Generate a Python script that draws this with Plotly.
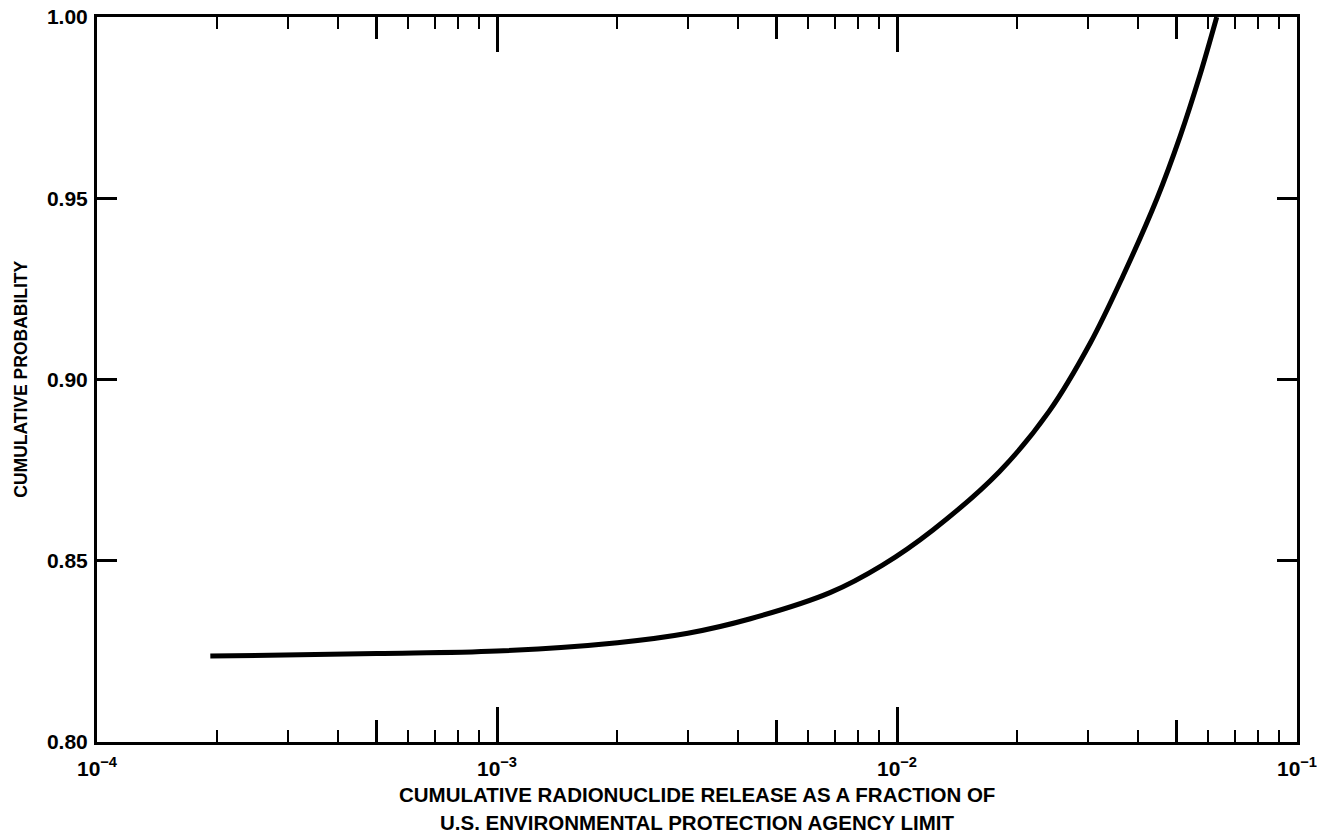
import plotly.graph_objects as go

# Cumulative release (fraction of EPA limit) vs cumulative probability
release = [1.92e-4, 5e-4, 1e-3, 2e-3, 3e-3, 4.3e-3, 6.8e-3, 9.2e-3,
           1.23e-2, 1.8e-2, 2.4e-2, 3.04e-2, 3.67e-2, 4.47e-2, 5.1e-2,
           5.72e-2, 6.3e-2]
probability = [0.8237, 0.8244, 0.8251, 0.8274, 0.8300, 0.8340, 0.8412,
               0.8488, 0.8585, 0.8745, 0.8912, 0.9100, 0.9285, 0.9500,
               0.9670, 0.9840, 1.0]

decade_ticks = [1e-4, 1e-3, 1e-2, 1e-1]
decade_labels = ["10<sup>−4</sup>", "10<sup>−3</sup>", "10<sup>−2</sup>", "10<sup>−1</sup>"]
half_decade_ticks = [5e-4, 5e-3, 5e-2]
minor_ticks = [m * d for d in [1e-4, 1e-3, 1e-2] for m in (2, 3, 4, 6, 7, 8, 9)]

prob_ticks = [0.80, 0.85, 0.90, 0.95, 1.00]
prob_labels = ["0.80", "0.85", "0.90", "0.95", "1.00"]

x_title_lines = ["CUMULATIVE RADIONUCLIDE RELEASE AS A FRACTION OF",
                 "U.S. ENVIRONMENTAL PROTECTION AGENCY LIMIT"]
y_title = "CUMULATIVE PROBABILITY"

FONT = "Liberation Sans"
BLACK = "#000000"

fig = go.Figure()
fig.add_trace(go.Scatter(
    x=release, y=probability, mode="lines",
    line=dict(color=BLACK, width=5, shape="spline", smoothing=1.0),
    showlegend=False, hoverinfo="skip",
))
# invisible helper so the overlay axis carrying the 5x ticks is drawn
fig.add_trace(go.Scatter(
    x=[1e-4], y=[0.8], xaxis="x2", mode="markers",
    marker=dict(opacity=0, size=1), showlegend=False, hoverinfo="skip",
))

fig.update_layout(
    template="none",
    width=1317, height=840,
    margin=dict(l=97, r=20, t=17, b=98, autoexpand=False),
    paper_bgcolor="white", plot_bgcolor="white",
    font=dict(family=FONT, color=BLACK),
    xaxis=dict(
        type="log", range=[-4, -1], automargin=False,
        tickvals=decade_ticks, ticktext=decade_labels,
        ticks="inside", ticklen=35, tickwidth=2.5, tickcolor=BLACK,
        showline=True, linewidth=3, linecolor=BLACK, mirror="ticks",
        showgrid=False, zeroline=False,
        ticklabelstandoff=6, ticklabeloverflow="allow",
        tickfont=dict(family=FONT, size=21, weight="bold", color=BLACK),
        minor=dict(tickvals=minor_ticks, ticks="inside", ticklen=12,
                   tickwidth=2, tickcolor=BLACK, showgrid=False),
    ),
    xaxis2=dict(
        type="log", range=[-4, -1], overlaying="x", anchor="y", side="bottom",
        automargin=False,
        tickvals=half_decade_ticks, showticklabels=False,
        ticks="inside", ticklen=22, tickwidth=2.5, tickcolor=BLACK,
        showline=True, linewidth=3, linecolor=BLACK, mirror="ticks",
        showgrid=False, zeroline=False,
    ),
    yaxis=dict(
        range=[0.8, 1.0], automargin=False,
        tickvals=prob_ticks, ticktext=prob_labels,
        ticks="inside", ticklen=20, tickwidth=2.5, tickcolor=BLACK,
        showline=True, linewidth=3, linecolor=BLACK, mirror="ticks",
        showgrid=False, zeroline=False,
        ticklabelstandoff=2, ticklabeloverflow="allow",
        tickfont=dict(family=FONT, size=21, weight="bold", color=BLACK),
    ),
)

# axis titles
title_font = dict(family=FONT, size=20.5, weight="bold", color=BLACK)
fig.add_annotation(text=x_title_lines[0], xref="paper", yref="paper",
                   x=0.5, y=-0.073, xanchor="center", yanchor="middle",
                   showarrow=False, font=title_font)
fig.add_annotation(text=x_title_lines[1], xref="paper", yref="paper",
                   x=0.5, y=-0.111, xanchor="center", yanchor="middle",
                   showarrow=False, font=title_font)
fig.add_annotation(text=y_title, xref="paper", yref="paper",
                   x=-0.064, y=0.5, xanchor="center", yanchor="middle",
                   textangle=-90, showarrow=False,
                   font=dict(family=FONT, size=17.5, weight="bold", color=BLACK))

fig.write_html("out.html")
